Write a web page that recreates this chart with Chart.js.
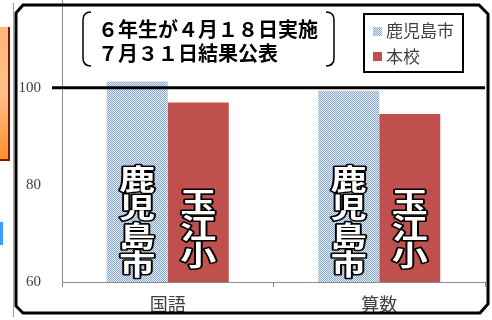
<!DOCTYPE html>
<html><head><meta charset="utf-8">
<script src="https://cdn.jsdelivr.net/npm/chart.js@4/dist/chart.umd.min.js"></script>
<style>html,body{margin:0;padding:0;background:#fff;}canvas{display:block;}</style>
</head><body>
<canvas id="c" width="492" height="320"></canvas>
<script>
const categories = ['国語', '算数'];
const cityValues = [101.3, 99.4];
const schoolValues = [97.0, 94.6];
const seriesNames = ['鹿児島市', '本校'];
const barLabels = ['鹿児島市', '玉江小'];
const yTicks = [60, 80, 100];
const titleLines = ['６年生が４月１８日実施', '７月３１日結果公表'];
const referenceValue = 100;

function makePattern() {
  const p = document.createElement('canvas');
  p.width = 2; p.height = 2;
  const g = p.getContext('2d');
  g.fillStyle = '#e4ecf6'; g.fillRect(0, 0, 2, 2);
  g.fillStyle = '#86a7d2'; g.fillRect(0, 0, 1, 1); g.fillRect(1, 1, 1, 1);
  return document.getElementById('c').getContext('2d').createPattern(p, 'repeat');
}
const cityFill = makePattern();
const red = '#c0504d';
const gray = '#8c8c8c';

const deco = {
  id: 'deco',
  beforeDraw(chart) {
    const ctx = chart.ctx;
    ctx.save();
    ctx.fillStyle = '#fff';
    ctx.fillRect(0, 0, chart.width, chart.height);
    ctx.restore();
  },
  afterDatasetsDraw(chart) {
    const ctx = chart.ctx;
    const y = chart.scales.y;
    const py = y.getPixelForValue(referenceValue);
    ctx.save();
    ctx.strokeStyle = '#000'; ctx.lineWidth = 3;
    ctx.beginPath(); ctx.moveTo(52, py); ctx.lineTo(485, py); ctx.stroke();
    ctx.restore();
    const drawVertical = (text, x, topY, size, step) => {
      ctx.save();
      ctx.font = 'bold ' + size + 'px "Noto Sans CJK JP"';
      ctx.textAlign = 'center'; ctx.textBaseline = 'middle';
      ctx.lineJoin = 'round';
      [...text].forEach((ch, i) => {
        ctx.save();
        ctx.translate(x, topY + step * i + step / 2);
        ctx.scale(1, 0.78);
        ctx.strokeStyle = '#000'; ctx.lineWidth = 4;
        ctx.strokeText(ch, 0, 0);
        ctx.fillStyle = '#fff';
        ctx.fillText(ch, 0, 0);
        ctx.restore();
      });
      ctx.restore();
    };
    const m0 = chart.getDatasetMeta(0), m1 = chart.getDatasetMeta(1);
    m0.data.forEach(b => drawVertical(barLabels[0], b.x, 165, 36, 28.5));
    m1.data.forEach(b => drawVertical(barLabels[1], b.x, 189, 36, 26.5));
  },
  afterDraw(chart) {
    const ctx = chart.ctx;
    ctx.save();
    ctx.strokeStyle = '#a0a0a0'; ctx.lineWidth = 1;
    ctx.beginPath(); ctx.moveTo(13.5, 3); ctx.lineTo(13.5, 317); ctx.stroke();
    ctx.strokeStyle = '#000'; ctx.lineWidth = 3;
    ctx.beginPath();
    ctx.moveTo(23, 5); ctx.lineTo(479, 5); ctx.lineTo(488, 14);
    ctx.lineTo(488, 304); ctx.lineTo(480, 313); ctx.lineTo(23, 313);
    ctx.lineTo(16, 306); ctx.lineTo(16, 13); ctx.closePath(); ctx.stroke();
    const gr = ctx.createLinearGradient(0, 27, 0, 160);
    gr.addColorStop(0, '#ffb676'); gr.addColorStop(0.5, '#ffc08a'); gr.addColorStop(1, '#ff8f2a');
    ctx.fillStyle = gr; ctx.fillRect(0, 27, 9, 133);
    ctx.fillStyle = '#7a1800';
    ctx.fillRect(8, 27, 2, 134); ctx.fillRect(0, 159, 10, 2);
    ctx.fillStyle = '#3aa0ff'; ctx.fillRect(0, 222, 3, 23);
    ctx.strokeStyle = '#000'; ctx.lineWidth = 1.5;
    ctx.beginPath();
    ctx.moveTo(91, 12); ctx.quadraticCurveTo(83, 12, 83, 20);
    ctx.lineTo(83, 58); ctx.quadraticCurveTo(83, 66, 91, 66);
    ctx.moveTo(326, 12); ctx.quadraticCurveTo(334, 12, 334, 20);
    ctx.lineTo(334, 58); ctx.quadraticCurveTo(334, 66, 326, 66);
    ctx.stroke();
    ctx.fillStyle = '#000';
    ctx.font = 'bold 20px "Noto Sans CJK JP"';
    ctx.textAlign = 'left'; ctx.textBaseline = 'middle';
    ctx.fillText(titleLines[0], 98, 29);
    ctx.fillText(titleLines[1], 98, 53);
    ctx.fillStyle = '#fff'; ctx.fillRect(364, 14, 99, 58);
    ctx.strokeStyle = '#000'; ctx.lineWidth = 2;
    ctx.strokeRect(364, 14, 99, 58);
    ctx.font = '17px "Noto Sans CJK JP"';
    ctx.fillStyle = cityFill; ctx.fillRect(373, 27, 9, 9);
    ctx.fillStyle = red; ctx.fillRect(373, 52, 9, 9);
    ctx.fillStyle = '#404040';
    ctx.fillText(seriesNames[0], 386, 31);
    ctx.fillText(seriesNames[1], 386, 57);
    ctx.restore();
  }
};

new Chart(document.getElementById('c'), {
  type: 'bar',
  data: {
    labels: categories,
    datasets: [
      { label: seriesNames[0], data: cityValues, backgroundColor: cityFill, borderWidth: 0 },
      { label: seriesNames[1], data: schoolValues, backgroundColor: red, borderWidth: 0 }
    ]
  },
  options: {
    responsive: false,
    animation: false,
    devicePixelRatio: 1,
    layout: { padding: { left: 0, right: 7, top: 0, bottom: 0 } },
    datasets: { bar: { categoryPercentage: 0.577, barPercentage: 1 } },
    plugins: { legend: { display: false }, tooltip: { enabled: false } },
    scales: {
      y: {
        min: 60, max: 118.1,
        afterFit(s) { s.width = 62; s.paddingTop = 0; s.paddingBottom = 0; },
        afterBuildTicks(s) { s.ticks = yTicks.map(v => ({ value: v })); },
        grid: { drawOnChartArea: false, drawTicks: false },
        border: { display: true, color: gray, width: 1 },
        ticks: { padding: 21, color: '#404040', font: { family: 'Liberation Serif', size: 15 } }
      },
      x: {
        afterFit(s) { s.height = 38; s.paddingLeft = 0; s.paddingRight = 0; },
        grid: { drawOnChartArea: false, drawTicks: true, tickLength: 5, color: gray, offset: true },
        border: { display: true, color: gray, width: 1 },
        ticks: { padding: 6, color: '#404040', font: { family: 'Noto Sans CJK JP', size: 18 } }
      }
    }
  },
  plugins: [deco]
});
</script>
</body></html>
